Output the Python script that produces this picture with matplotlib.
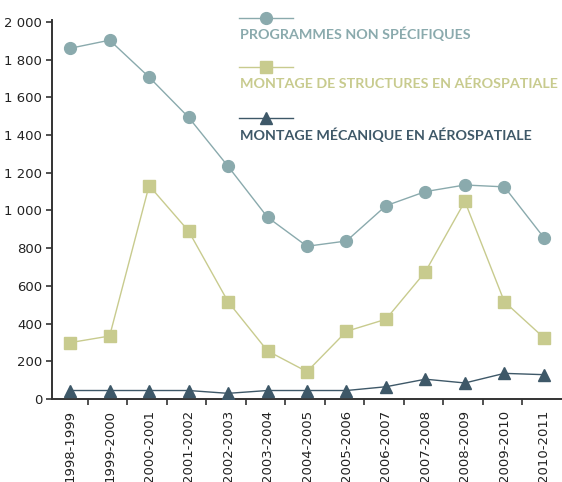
import matplotlib
matplotlib.use("Agg")
import matplotlib.pyplot as plt
from matplotlib.lines import Line2D

years = ["1998-1999", "1999-2000", "2000-2001", "2001-2002", "2002-2003", "2003-2004",
         "2004-2005", "2005-2006", "2006-2007", "2007-2008", "2008-2009", "2009-2010", "2010-2011"]
programmes = [1860, 1903, 1707, 1494, 1234, 964, 810, 838, 1025, 1100, 1135, 1125, 856]
structures = [299, 334, 1132, 891, 516, 255, 145, 359, 423, 675, 1048, 516, 325]
mecanique = [45, 45, 45, 45, 30, 45, 45, 45, 65, 105, 85, 136, 129]
yticks = [0, 200, 400, 600, 800, 1000, 1200, 1400, 1600, 1800, 2000]
ytick_labels = ["0", "200", "400", "600", "800", "1 000", "1 200", "1 400", "1 600", "1 800", "2 000"]
series_names = ["PROGRAMMES NON SPÉCIFIQUES", "MONTAGE DE STRUCTURES EN AÉROSPATIALE",
                "MONTAGE MÉCANIQUE EN AÉROSPATIALE"]

c_prog = "#8AAAAD"
c_struct = "#C8CB8E"
c_meca = "#3E5868"
c_axis = "#333333"

fig = plt.figure(figsize=(5.62, 4.82), dpi=100)
ax = fig.add_axes([52/562, 1-399/482, 1-52/562, (399-20)/482])

x = list(range(len(years)))
ax.plot(x, programmes, color=c_prog, lw=1.0, marker="o", ms=8.5, mec=c_prog, mfc=c_prog, zorder=3)
ax.plot(x, structures, color=c_struct, lw=1.0, marker="s", ms=9, mec=c_struct, mfc=c_struct, zorder=3)
ax.plot(x, mecanique, color=c_meca, lw=1.0, marker="^", ms=8, mec=c_meca, mfc=c_meca, zorder=3)

ax.set_xlim(-0.46, 12.46)
ax.set_ylim(0, 2010)
ax.set_yticks(yticks)
ax.set_yticklabels(ytick_labels)
ax.set_xticks(x)
ax.set_xticklabels(years, rotation=90)
ax.set_xticks([i + 0.45 for i in range(12)], minor=True)
ax.tick_params(axis="x", which="major", length=0, pad=8)
ax.tick_params(axis="x", which="minor", length=4, width=1.2, color=c_axis, direction="out")
ax.tick_params(axis="y", length=4, width=1.2, color=c_axis, direction="out", pad=3)
for lab in ax.get_xticklabels() + ax.get_yticklabels():
    lab.set_fontsize(9.5)
    lab.set_color("#222222")
    lab.set_fontweight("medium")
for s in ["top", "right"]:
    ax.spines[s].set_visible(False)
for s in ["left", "bottom"]:
    ax.spines[s].set_color(c_axis)
    ax.spines[s].set_linewidth(1.4)

# custom legend: line+marker above, text below
leg = [(c_prog, "o", 8.5, 18, 34), (c_struct, "s", 9, 67, 84), (c_meca, "^", 8, 118, 135)]
for (col, mk, ms, ly, ty), name in zip(leg, series_names):
    yf = 1 - ly/482
    fig.add_artist(Line2D([239/562, 293/562], [yf, yf], color=col, lw=1.0, transform=fig.transFigure))
    fig.add_artist(Line2D([266/562], [yf], color=col, marker=mk, ms=ms, mec=col, mfc=col,
                          transform=fig.transFigure))
    fig.text(240/562, 1 - ty/482, name, color=col, fontsize=10.3, fontweight="bold",
             family="Lato", va="center", ha="left")

fig.savefig("out.png", dpi=100)
